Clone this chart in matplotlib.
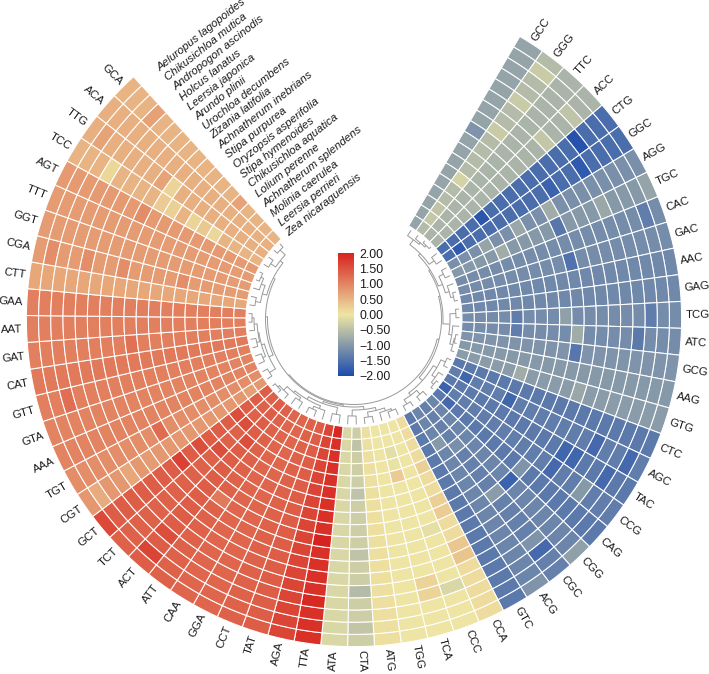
import matplotlib
matplotlib.use("Agg")
import matplotlib.pyplot as plt
import numpy as np
from matplotlib.cm import ScalarMappable
from matplotlib.colors import LinearSegmentedColormap, Normalize

plt.rcParams["font.family"] = ["Liberation Sans", "DejaVu Sans"]

# outermost ring first
species = [
    "Aeluropus lagopoides", "Chikusichloa mutica", "Andropogon ascinodis", "Holcus lanatus",
    "Leersia japonica", "Arundo plinii", "Urochloa decumbens", "Zizania latifolia",
    "Achnatherum inebrians", "Stipa purpurea", "Oryzopsis asperifolia", "Stipa hymenoides",
    "Chikusichloa aquatica", "Lolium perenne", "Achnatherum splendens", "Molinia caerulea",
    "Leersia perrieri", "Zea nicaraguensis",
]

# clockwise from the top right
codons = [
    "GCC", "GGG", "TTC", "ACC", "CTG", "GGC", "AGG", "TGC", "CAC", "GAC", "AAC", "GAG", "TCG",
    "ATC", "GCG", "AAG", "GTG", "CTC", "AGC", "TAC", "CCG", "CAG", "CGG", "CGC", "ACG", "GTC",
    "CCA", "CCC", "TCA", "TGG", "ATG", "CTA", "ATA", "TTA", "AGA", "TAT", "CCT", "GGA", "CAA",
    "ATT", "ACT", "TCT", "GCT", "CGT", "TGT", "AAA", "GTA", "GTT", "CAT", "GAT", "AAT", "GAA",
    "CTT", "CGA", "GGT", "TTT", "AGT", "TCC", "TTG", "ACA", "GCA",
]

# typical value of each codon column
codon_values = [
    -0.85, -0.55, -0.65, -0.65, -1.55, -1.55, -1.10, -1.00, -1.15, -1.15, -1.20, -1.20, -1.15,
    -1.15, -1.05, -1.00, -0.95, -1.40, -1.35, -1.40, -1.35, -1.40, -1.25, -1.30, -1.25, -1.40,
    0.10, 0.02, 0.03, 0.03, 0.07, -0.30, -0.20, 1.85, 1.65, 1.40, 1.35, 1.30, 1.30,
    1.35, 1.40, 1.35, 1.40, 0.80, 0.90, 1.00, 1.00, 1.05, 1.10, 1.05, 1.05, 1.05,
    0.65, 0.75, 0.75, 0.75, 0.78, 0.50, 0.55, 0.55, 0.50,
]

# cells that stand out from their column: (codon, ring, value)
cell_values = [
    ("GCC", 8, -1.05), ("GGG", 4, -0.35), ("GGG", 1, -0.35), ("GGG", 7, -0.35), ("GGG", 12, -0.25),
    ("GGG", 16, -0.40), ("GGG", 15, -0.45), ("ACC", 5, -0.40), ("ACC", 2, -0.45), ("CTG", 3, -1.90),
    ("CTG", 13, -1.85), ("GGC", 16, -1.80), ("GGC", 4, -1.80), ("GGC", 7, -1.70), ("AGG", 8, -0.75),
    ("TGC", 13, -0.75), ("TGC", 8, -1.45), ("GAC", 8, -1.50), ("TGC", 4, -0.80), ("TGC", 0, -0.85),
    ("CAC", 1, -1.35), ("TCG", 2, -1.35), ("TCG", 13, -1.35), ("ATC", 13, -1.35), ("TCG", 9, -0.90),
    ("ATC", 8, -0.75), ("GCG", 8, -1.45), ("ATC", 3, -1.40), ("GTG", 12, -0.75), ("AGG", 11, -0.80),
    ("AGG", 14, -0.85), ("GTG", 7, -0.80), ("CGG", 8, -1.70), ("CGC", 8, -0.95), ("AGC", 12, -1.65),
    ("TAC", 6, -1.65), ("TAC", 5, -1.65), ("AGC", 4, -1.60), ("TAC", 2, -1.60), ("AGC", 1, -1.60),
    ("CCG", 6, -1.60), ("CCG", 3, -1.00), ("CGC", 2, -1.60), ("CGC", 3, -1.05), ("CGG", 0, -0.90),
    ("ACG", 0, -1.05), ("CAG", 16, -1.60), ("CCG", 17, -1.70), ("AGC", 16, -1.65), ("CAG", 8, -1.05),
    ("ACG", 14, -1.00), ("CGC", 13, -1.10), ("CTA", 16, -0.45), ("CTA", 12, -0.45), ("CTA", 7, -0.45),
    ("CTA", 4, -0.55), ("CTA", 1, -0.42), ("TCA", 13, 0.28), ("TCA", 15, -0.10), ("TCA", 14, -0.05),
    ("CCA", 13, 0.22), ("CCA", 10, 0.22), ("CCA", 9, 0.26), ("CCA", 6, 0.32), ("CCA", 5, 0.35),
    ("CCC", 3, -0.20), ("TCA", 4, 0.18), ("TCA", 3, 0.18), ("CCC", 8, -0.08), ("TTA", 8, 2.00),
    ("TTA", 3, 1.95), ("TTA", 17, 1.95), ("GCT", 8, 1.70), ("ACT", 1, 1.65), ("GCT", 0, 1.60),
    ("ACT", 3, 1.55), ("GCT", 14, 1.55), ("TCT", 14, 1.55), ("ACT", 13, 1.55), ("TCT", 11, 1.55),
    ("GCT", 10, 1.55), ("ATT", 8, 1.10), ("TGT", 8, 1.25), ("CGT", 4, 0.65), ("CGT", 1, 0.60),
    ("CGT", 13, 0.80), ("CGT", 10, 0.80), ("CGT", 16, 0.72), ("CGT", 6, 0.75), ("GAT", 8, 1.20),
    ("GTT", 2, 1.22), ("CGA", 1, 0.90), ("CGA", 4, 0.90), ("CGA", 7, 0.90), ("CGA", 12, 0.90),
    ("AGT", 7, 0.92), ("TCC", 3, 0.15), ("TTG", 8, 0.20), ("TCC", 8, 0.28), ("TCC", 9, 0.22),
    ("TCC", 11, 0.18), ("TCC", 13, 0.15), ("TCC", 12, 0.30), ("TTG", 7, 0.68), ("GCA", 3, 0.70),
    ("TTG", 1, 0.68), ("GCA", 13, 0.68),
]

bar_ticks = [2.0, 1.5, 1.0, 0.5, 0.0, -0.5, -1.0, -1.5, -2.0]
bar_labels = ["2.00", "1.50", "1.00", "0.50", "0.00", "\u22120.50", "\u22121.00", "\u22121.50", "\u22122.00"]

# (join radius, children), a child is a column number or another node
top_right = (93, [(99, [0, (101, [1, (103, [2, 3])])]), (99, [4, 5])])
mid_a = (95, [(100, [6, 7]), (99, [8, (102, [9, 10])])])
mid_b = (96, [(102, [11, 12]), (99, [13, (102, [(103, [14, 15]), 16])])])
low_right = (92, [(96, [(101, [17, 18]), (100, [19, (103, [20, 21])])]),
                  (95, [(100, [22, 23]), (100, [24, 25])])])
blue_side = (87.5, [(89, [(90.5, [top_right, mid_a]), mid_b]), low_right])
yellow = (91, [(94, [(97, [(99, [26, 27]), 28]), (99, [29, 30])]), (97, [31, 32])])
red = (90, [(97, [33, 34]), (93, [(96, [35, (99, [36, 37])]), (95, [(98, [38, 39]), (100, [40, (102, [41, 42])])])])])
orange = (93, [(100, [43, 44]), (96, [(99, [45, 46]), (97, [(100, [47, 48]), (100, [49, (102, [50, 51])])])])])
light_a = (95, [(100, [52, 53]), (99, [54, (102, [55, 56])])])
light_b = (94, [(100, [57, 58]), (101, [59, 60])])
warm_side = (86.5, [(88, [yellow, red]), (88.5, [orange, (90.5, [light_a, light_b])])])
dendro_tree = (85.5, [blue_side, warm_side])

START_DEG = 30.4
STEP_DEG = 4.71
R_INNER = 108.0
ROW_H = 12.2
LEAF_R = 105.5
DENDRO_COLOR = "#999999"
TEXT_COLOR = "#1a1a1a"


def column_theta(col):
    return np.radians(START_DEG + (col + 0.5) * STEP_DEG)


def draw_node(ax, node):
    # returns the angle of the node, draws its stem-ends and arc on the way
    if not isinstance(node, tuple):
        return column_theta(node), LEAF_R
    r, children = node
    angles = []
    for child in children:
        t, child_r = draw_node(ax, child)
        ax.plot([t, t], [r, child_r], color=DENDRO_COLOR, lw=0.7, solid_capstyle="butt")
        angles.append(t)
    arc = np.linspace(min(angles), max(angles), 60)
    ax.plot(arc, np.full_like(arc, r), color=DENDRO_COLOR, lw=0.7, solid_capstyle="round")
    return (min(angles) + max(angles)) / 2, r


values = np.tile(np.array(codon_values), (len(species), 1))
for codon, ring, val in cell_values:
    values[ring, codons.index(codon)] = val

cmap = LinearSegmentedColormap.from_list("rsc", ["#1c4bae", "#eee6a5", "#d7231f"])
norm = Normalize(-2, 2)

fig = plt.figure(figsize=(7.09, 6.74), dpi=100)
# axes square of 700 px around the ring centre, one radial unit is one pixel
ax = fig.add_axes([(354 - 350) / 709, (674 - 319 - 350) / 674, 700 / 709, 700 / 674], projection="polar")
ax.set_theta_zero_location("N")
ax.set_theta_direction(-1)
ax.set_ylim(0, 350)
ax.axis("off")

n_rows, n_cols = values.shape
for i in range(n_rows):
    outer = R_INNER + (n_rows - i) * ROW_H
    ax.bar(
        column_theta(np.arange(n_cols)), ROW_H, width=np.radians(STEP_DEG), bottom=outer - ROW_H,
        color=cmap(norm(values[i])), edgecolor="white", linewidth=0.75,
    )

draw_node(ax, dendro_tree)

for col, codon in enumerate(codons):
    t = column_theta(col)
    deg = np.degrees(t)
    if deg < 180:
        ax.text(t, 331.5, codon, rotation=90 - deg, rotation_mode="anchor", ha="left", va="center",
                fontsize=8.2, color=TEXT_COLOR)
    else:
        ax.text(t, 331.5, codon, rotation=270 - deg, rotation_mode="anchor", ha="right", va="center",
                fontsize=8.2, color=TEXT_COLOR)

label_r = np.linspace(317, 108, n_rows)
for name, r in zip(species, label_r):
    ax.text(np.radians(322), r, name, rotation=38.5, rotation_mode="anchor", ha="left", va="center",
            fontsize=8.2, style="italic", color=TEXT_COLOR)

cax = fig.add_axes([338 / 709, (674 - 376) / 674, 16 / 709, 123 / 674])
cbar = fig.colorbar(ScalarMappable(norm=norm, cmap=cmap), cax=cax)
cbar.set_ticks(bar_ticks)
cbar.set_ticklabels(bar_labels)
cbar.ax.tick_params(length=0, pad=4, labelsize=8.9, labelcolor=TEXT_COLOR)
cbar.outline.set_visible(False)

fig.savefig("out.png", dpi=100)
